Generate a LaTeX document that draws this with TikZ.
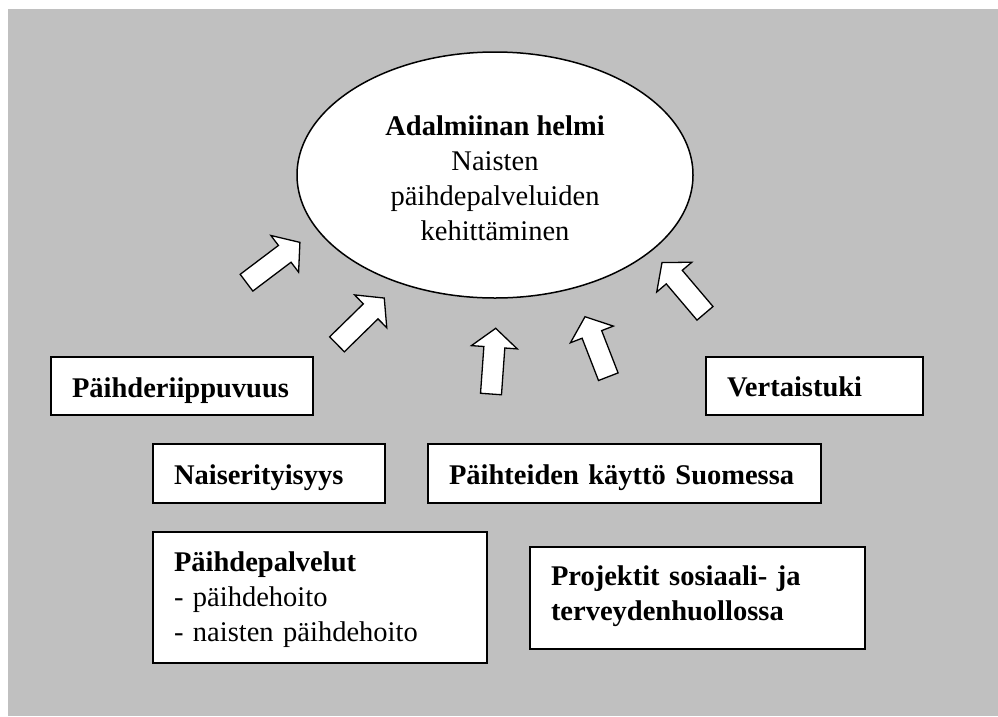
\documentclass[tikz,border=0pt]{standalone}
\usepackage{fontspec}
\setmainfont{Liberation Serif}
\usetikzlibrary{shapes.geometric,calc}
\definecolor{bggray}{HTML}{C0C0C0}
\newcommand\blockarrow[2]{%
  \path let \p1=($(#2)-(#1)$), \n1={atan2(\y1,\x1)}, \n2={veclen(\x1,\y1)} in
    \pgfextra{\xdef\baang{\n1}\xdef\balen{\n2}};
  \draw[blockarr, shift={(#1)}, rotate=\baang]
    (0,-10.5) -- (\balen-19,-10.5) -- (\balen-19,-23) -- (\balen,0)
    -- (\balen-19,23) -- (\balen-19,10.5) -- (0,10.5) -- cycle;
}
\begin{document}
\begin{tikzpicture}[x=1pt,y=-1pt,
  mainfont/.style={font=\fontsize{28.5}{35}\selectfont},
  box/.style={draw=black, line width=1.5pt, fill=white, rectangle,
    anchor=north west, outer sep=0pt, inner xsep=21pt, inner ysep=0pt,
    align=left, mainfont},
  blockarr/.style={draw=black, line width=1.3pt, fill=white, line join=miter}]
\useasboundingbox (0,0) rectangle (998,716);
\fill[bggray] (8,9) rectangle (998,716);

% central ellipse
\node[draw=black, line width=1.5pt, fill=white, ellipse, inner sep=0pt,
  minimum width=396pt, minimum height=246pt] (ell) at (495,175) {};
\node[anchor=north, inner sep=0pt, align=center, mainfont] (elltxt) at (495,115.5)
  {\textbf{Adalmiinan helmi}\\Naisten\\päihdepalveluiden\\kehittäminen};

% boxes
\node[box, minimum width=262pt, minimum height=58pt, text width=220pt,
  text height=40pt, text depth=18pt] (riipp) at (51,357) {\textbf{Päihderiippuvuus}};
\node[box, minimum width=217pt, minimum height=58pt, text width=175pt,
  text height=39.7pt, text depth=18.3pt] (vert) at (706,357) {\textbf{Vertaistuki}};
\node[box, minimum width=232pt, minimum height=59pt, text width=190pt,
  text height=40pt, text depth=19pt] (nais) at (153,444) {\textbf{Naiserityisyys}};
\node[box, minimum width=393pt, minimum height=59pt, text width=351pt,
  text height=40.5pt, text depth=18.5pt] (kaytto) at (428,444) {\textbf{Päihteiden käyttö Suomessa}};
\node[box, minimum width=334pt, minimum height=131pt, text width=292pt,
  text height=39.7pt, text depth=91.3pt] (palv) at (153,532)
  {\textbf{Päihdepalvelut}\\- päihdehoito\\- naisten päihdehoito};
\node[box, minimum width=335pt, minimum height=102pt, text width=293pt,
  text height=38pt, text depth=64pt] (proj) at (530,547)
  {\textbf{Projektit sosiaali- ja}\\\textbf{terveydenhuollossa}};

% block arrows
\coordinate (a1tail) at (246.5,282.7); \coordinate (a1tip) at (300,242.3);
\coordinate (a2tail) at (337,344.3);   \coordinate (a2tip) at (384.3,298);
\coordinate (a3tail) at (491,394);     \coordinate (a3tip) at (495.7,328.3);
\coordinate (a4tail) at (608.3,376.7); \coordinate (a4tip) at (585,316.7);
\coordinate (a5tail) at (705,313.3);   \coordinate (a5tip) at (661.9,262.5);
\blockarrow{a1tail}{a1tip}
\blockarrow{a2tail}{a2tip}
\blockarrow{a3tail}{a3tip}
\blockarrow{a4tail}{a4tip}
\blockarrow{a5tail}{a5tip}
\end{tikzpicture}
\end{document}
